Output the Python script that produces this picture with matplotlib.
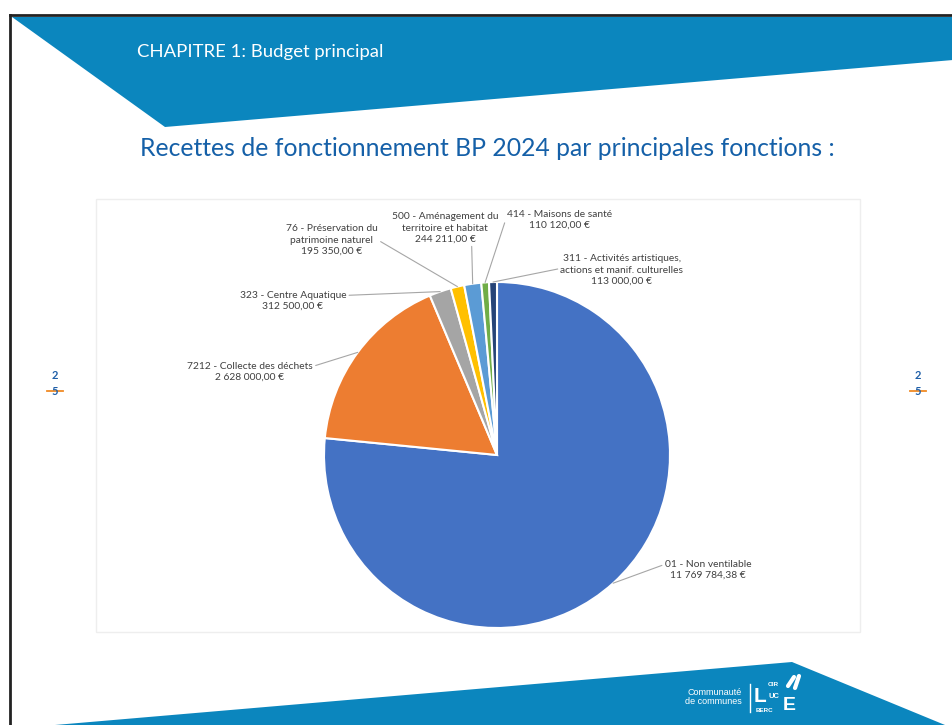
import matplotlib.pyplot as plt
from matplotlib.patches import Polygon, Rectangle
import numpy as np

plt.rcParams['font.family'] = ['Lato', 'DejaVu Sans']

# data
codes = ['01', '7212', '323', '76', '500', '414', '311']
names = ['Non ventilable', 'Collecte des déchets', 'Centre Aquatique',
         'Préservation du\npatrimoine naturel', 'Aménagement du\nterritoire et habitat',
         'Maisons de santé', 'Activités artistiques,\nactions et manif. culturelles']
amounts = [11769784.38, 2628000.00, 312500.00, 195350.00, 244211.00, 110120.00, 113000.00]
amount_labels = ['11 769 784,38 €', '2 628 000,00 €', '312 500,00 €', '195 350,00 €',
                 '244 211,00 €', '110 120,00 €', '113 000,00 €']
colors = ['#4472C4', '#ED7D31', '#A5A5A5', '#FFC000', '#5B9BD5', '#70AD47', '#264478']

# label placement on the slide (image pixels) and where the leader leaves the text
label_pos = [(708, 570), (250, 372), (293, 301), (332, 240), (445, 228), (560, 220), (622, 270)]
relpos = [(0, 0.78), (1, 0.78), (1, 0.78), (1, 0.5), (0.75, 0), (0, 0.78), (0, 0.55)]

W, H = 953, 725
fig = plt.figure(figsize=(W / 100, H / 100), dpi=100)
bg = fig.add_axes([0, 0, 1, 1])
bg.set_xlim(0, W)
bg.set_ylim(H, 0)
bg.axis('off')

banner = '#0B86BE'
# top banner
bg.add_patch(Polygon([(12, 17), (953, 17), (953, 60), (165, 127)], closed=True,
                     facecolor=banner, edgecolor='none'))
bg.text(137, 52, 'CHAPITRE 1: Budget principal', color='white', fontsize=13.3,
        va='center', ha='left')
# slide frame (scan edge)
bg.plot([10, 953], [15, 15], color='#222222', lw=2)
bg.plot([10, 10], [15, 725], color='#222222', lw=2)

# heading
bg.text(140, 148, 'Recettes de fonctionnement BP 2024 par principales fonctions :',
        color='#1560A8', fontsize=17.8, va='center', ha='left')

# chart area border
bg.add_patch(Rectangle((96, 199), 764, 433, facecolor='none', edgecolor='#EEEEEE', lw=1))

# page markers
for x in (55, 918):
    bg.text(x, 375, '2', color='#1F5FA8', fontsize=8, fontweight='bold', ha='center', va='center')
    bg.text(x, 391, '5', color='#1F5FA8', fontsize=8, fontweight='bold', ha='center', va='center')
    bg.plot([x - 8, x + 8], [391, 391], color='#F08A24', lw=1.3)

# bottom banner and logo
bg.add_patch(Polygon([(55, 725), (792, 662), (945, 725)], closed=True,
                     facecolor=banner, edgecolor='none'))
bg.text(742, 697, 'Communauté\nde communes', color='white', fontsize=6.5,
        ha='right', va='center', linespacing=0.95, family=['Liberation Sans'])
bg.plot([750, 750], [684, 712], color='white', lw=1)
bg.text(754, 697, 'L', color='white', fontsize=15, fontweight='bold', ha='left', va='center',
        family=['Liberation Sans'])
bg.text(768, 684, 'OIR', color='white', fontsize=4.5, fontweight='bold', ha='left', va='center',
        family=['Liberation Sans'])
bg.text(769, 696, 'UC', color='white', fontsize=5.5, fontweight='bold', ha='left', va='center',
        family=['Liberation Sans'])
bg.text(756, 710, 'BERC', color='white', fontsize=4.5, fontweight='bold', ha='left', va='center',
        family=['Liberation Sans'])
bg.text(783, 705, 'E', color='white', fontsize=14, fontweight='bold', ha='left', va='center',
        family=['Liberation Sans'])
bg.plot([788, 794], [686, 677], color='white', lw=3, solid_capstyle='round')
bg.plot([795, 799], [688, 676], color='white', lw=3, solid_capstyle='round')

# pie
cx, cy, r = 497, 455, 173
ax = fig.add_axes([(cx - r) / W, (H - cy - r) / H, 2 * r / W, 2 * r / H])
wedges, _ = ax.pie(amounts, colors=colors, startangle=90, counterclock=False, radius=1,
                   wedgeprops=dict(edgecolor='white', linewidth=1.5))
ax.set_xlim(-1, 1)
ax.set_ylim(-1, 1)
ax.set_aspect('equal')
ax.axis('off')

for i, w in enumerate(wedges):
    ang = np.deg2rad((w.theta1 + w.theta2) / 2)
    txt = f'{codes[i]} - {names[i]}\n{amount_labels[i]}'
    ax.annotate(txt, xy=(np.cos(ang), np.sin(ang)), xycoords='data',
                xytext=label_pos[i], textcoords=bg.transData,
                ha='center', va='center', fontsize=7.4, color='#404040', linespacing=1.3,
                annotation_clip=False,
                arrowprops=dict(arrowstyle='-', color='#A6A6A6', lw=0.8,
                                shrinkA=0, shrinkB=0, relpos=relpos[i]))

fig.savefig('out.png', dpi=100)
